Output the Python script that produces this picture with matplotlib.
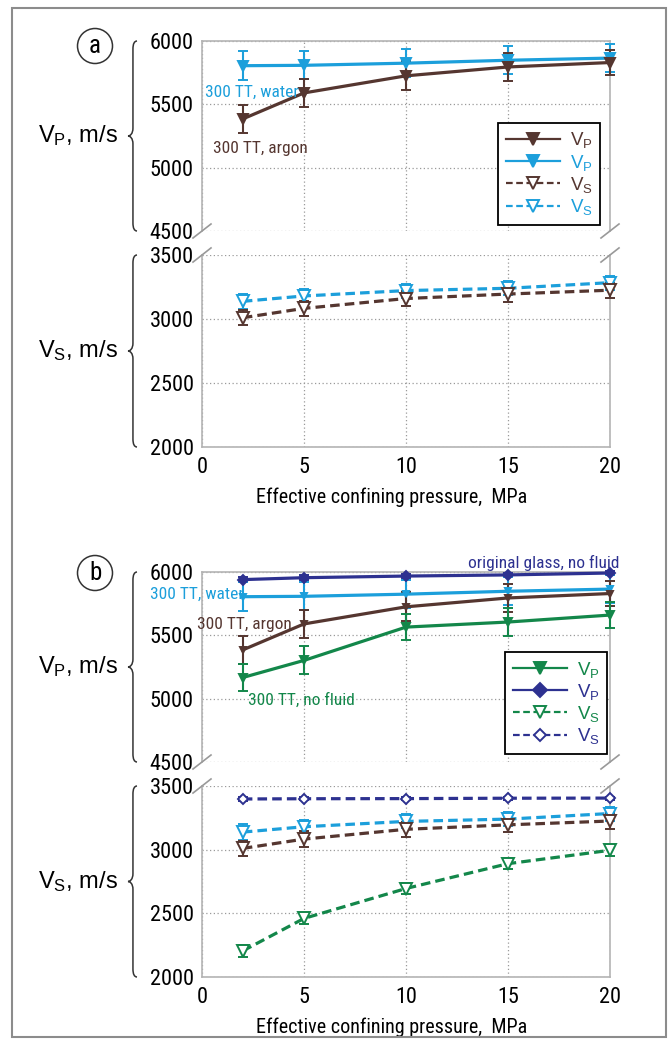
import matplotlib
matplotlib.use("Agg")
import matplotlib.pyplot as plt
from matplotlib import font_manager
from matplotlib.path import Path
from matplotlib.patches import PathPatch, Rectangle
from matplotlib.lines import Line2D
import numpy as np

# ---------------- data ----------------
pressure = [2, 5, 10, 15, 20]

vp_argon = [5385, 5590, 5725, 5795, 5830]
vp_argon_err = [110, 110, 115, 110, 100]
vp_water = [5805, 5808, 5825, 5848, 5865]
vp_water_err = [115, 110, 110, 110, 110]
vs_argon = [3010, 3083, 3160, 3195, 3225]
vs_argon_err = [60, 60, 60, 60, 60]
vs_water = [3138, 3180, 3222, 3240, 3284]
vs_water_err = [60, 55, 55, 55, 55]

vp_nofluid = [5167, 5302, 5565, 5605, 5660]
vp_nofluid_err = [110, 110, 100, 110, 100]
vp_glass = [5940, 5955, 5968, 5977, 5992]
vp_glass_err = [20, 20, 15, 15, 15]
vs_nofluid = [2205, 2460, 2695, 2890, 2995]
vs_nofluid_err = [45, 45, 45, 45, 45]
vs_glass = [3398, 3400, 3401, 3404, 3405]
vs_glass_err = [12, 12, 12, 12, 12]

xticks = [0, 5, 10, 15, 20]
vp_ticks = [4500, 5000, 5500, 6000]
vs_ticks = [2000, 2500, 3000, 3500]

# ---------------- style ----------------
names = {f.name for f in font_manager.fontManager.ttflist}
NARROW = "Liberation Sans"
for cand in ["Liberation Sans Narrow", "Nimbus Sans Narrow", "Roboto Condensed",
             "Arial Narrow", "Archivo Narrow"]:
    if cand in names:
        NARROW = cand
        break
REG = "Liberation Sans"
plt.rcParams["font.family"] = [NARROW, "DejaVu Sans"]
plt.rcParams["mathtext.fontset"] = "custom"
plt.rcParams["mathtext.rm"] = REG
plt.rcParams["mathtext.it"] = REG

BROWN = "#553630"
LBLUE = "#1c9fdb"
GREEN = "#13874a"
NAVY = "#2d3190"
SPINE = "#b4b4b4"

W, H = 668, 1039
fig = plt.figure(figsize=(W / 100, H / 100), dpi=100)


def fx(px):
    return px / W


def fy(py):
    return 1 - py / H


def make_axes(x0, x1, ytop, ybot):
    return fig.add_axes([fx(x0), fy(ybot), fx(x1) - fx(x0), (ybot - ytop) / H])


def style_axes(ax, ylim, yticks, top):
    ax.set_xlim(0, 20)
    ax.set_ylim(*ylim)
    ax.set_yticks(yticks)
    ax.set_xticks(xticks)
    ax.grid(True, linestyle=(0, (1, 2)), color="#9a9a9a", linewidth=0.9)
    ax.set_axisbelow(True)
    for s in ax.spines.values():
        s.set_color(SPINE)
        s.set_linewidth(1.2)
    ax.tick_params(axis="both", length=0, labelsize=16, pad=6, colors="black")
    if top:
        ax.spines["bottom"].set_visible(False)
        ax.tick_params(axis="x", labelbottom=False)
    else:
        ax.spines["top"].set_visible(False)
        ax.tick_params(axis="x", pad=7)
    dx, dy = 9 / 408, 7 / 190
    yb = 0 if top else 1
    for xb in (0, 1):
        ax.plot([xb - dx, xb + dx], [yb - dy, yb + dy], transform=ax.transAxes,
                color="#999999", lw=1.2, clip_on=False, zorder=5)


def brace(x, ytop, ybot, w=9, r=8):
    ym = (ytop + ybot) / 2
    xm = x + w * 0.55
    pts = [(x + w, ytop), (xm, ytop), (xm, ytop + r),
           (xm, ym - r),
           (xm, ym - 2), (x + 2, ym), (x, ym),
           (x + 2, ym), (xm, ym + 2), (xm, ym + r),
           (xm, ybot - r),
           (xm, ybot), (x + w, ybot)]
    codes = [Path.MOVETO, Path.CURVE3, Path.CURVE3,
             Path.LINETO,
             Path.CURVE4, Path.CURVE4, Path.CURVE4,
             Path.CURVE4, Path.CURVE4, Path.CURVE4,
             Path.LINETO,
             Path.CURVE3, Path.CURVE3]
    verts = [(fx(a), fy(b)) for a, b in pts]
    fig.add_artist(PathPatch(Path(verts, codes), transform=fig.transFigure,
                             fill=False, lw=1.1, edgecolor="#333333"))


def series(ax, y, err, color, marker, dashed, filled, ms=7):
    cont = ax.errorbar(pressure, y, yerr=err, color=color, ecolor=color,
                       linestyle=(0, (3, 1.6)) if dashed else "-", linewidth=2.3,
                       marker=marker, markersize=ms,
                       markerfacecolor=color if filled else "white",
                       markeredgecolor=color, markeredgewidth=1.4,
                       capsize=3.5, elinewidth=1.5, capthick=1.5, zorder=3)
    for art in cont.get_children():
        art.set_clip_on(False)


def legend(ax, entries, x0, ytop):
    handles, labels, colors = [], [], []
    for color, marker, dashed, filled, lab, ms in entries:
        handles.append(Line2D([], [], color=color, lw=1.6,
                              linestyle=(0, (3, 1.6)) if dashed else "-",
                              marker=marker, markersize=ms,
                              markerfacecolor=color if filled else "white",
                              markeredgecolor=color, markeredgewidth=1.4))
        labels.append(lab)
        colors.append(color)
    leg = ax.legend(handles, labels, loc="upper left",
                    bbox_to_anchor=(fx(x0), fy(ytop)),
                    bbox_transform=fig.transFigure, borderaxespad=0,
                    prop={"family": REG, "size": 13.5}, labelcolor=colors,
                    fancybox=False, edgecolor="black", framealpha=1,
                    handlelength=2.9, handletextpad=0.55, labelspacing=0.12,
                    borderpad=0.4)
    leg.get_frame().set_linewidth(1.3)
    leg.set_zorder(10)


VP = "V$_\\mathrm{P}$"
VS = "V$_\\mathrm{S}$"
XLAB = "Effective confining pressure,  MPa"

# ---------------- panel a ----------------
axa1 = make_axes(202, 610, 41, 231)
axa2 = make_axes(202, 610, 255, 447)
style_axes(axa1, (4500, 6000), vp_ticks, True)
style_axes(axa2, (2000, 3500), vs_ticks, False)

series(axa1, vp_water, vp_water_err, LBLUE, "v", False, True)
series(axa1, vp_argon, vp_argon_err, BROWN, "v", False, True)
series(axa2, vs_water, vs_water_err, LBLUE, "v", True, False, ms=8)
series(axa2, vs_argon, vs_argon_err, BROWN, "v", True, False, ms=8)
axa2.set_xlabel(XLAB, fontsize=14.5, labelpad=7)
axa2.xaxis.label.set_x(0.465)

legend(axa1, [(BROWN, "v", False, True, VP, 9), (LBLUE, "v", False, True, VP, 9),
              (BROWN, "v", True, False, VS, 8), (LBLUE, "v", True, False, VS, 8)],
       498, 123)

fig.text(fx(205), fy(92), "300 TT, water", color=LBLUE, fontsize=12.5, va="center")
fig.text(fx(213), fy(149), "300 TT, argon", color=BROWN, fontsize=12.5, va="center")

# ---------------- panel b ----------------
axb1 = make_axes(202, 610, 572, 762)
axb2 = make_axes(202, 610, 786, 977)
style_axes(axb1, (4500, 6000), vp_ticks, True)
style_axes(axb2, (2000, 3500), vs_ticks, False)

series(axb1, vp_glass, vp_glass_err, NAVY, "D", False, True, ms=5)
series(axb1, vp_water, vp_water_err, LBLUE, "v", False, True, ms=5)
series(axb1, vp_argon, vp_argon_err, BROWN, "v", False, True, ms=5)
series(axb1, vp_nofluid, vp_nofluid_err, GREEN, "v", False, True, ms=6)
series(axb2, vs_glass, vs_glass_err, NAVY, "D", True, False, ms=5)
series(axb2, vs_water, vs_water_err, LBLUE, "v", True, False, ms=8)
series(axb2, vs_argon, vs_argon_err, BROWN, "v", True, False, ms=8)
series(axb2, vs_nofluid, vs_nofluid_err, GREEN, "v", True, False, ms=8)
axb2.set_xlabel(XLAB, fontsize=14.5, labelpad=7)
axb2.xaxis.label.set_x(0.465)

legend(axb1, [(GREEN, "v", False, True, VP, 9), (NAVY, "D", False, True, VP, 7),
              (GREEN, "v", True, False, VS, 8), (NAVY, "D", True, False, VS, 6)],
       505, 652)

fig.text(fx(150), fy(594), "300 TT, water", color=LBLUE, fontsize=12.5, va="center")
fig.text(fx(197), fy(625), "300 TT, argon", color=BROWN, fontsize=12.5, va="center")
fig.text(fx(248), fy(700), "300 TT, no fluid", color=GREEN, fontsize=12.5, va="center")
fig.text(fx(619), fy(563), "original glass, no fluid", color=NAVY, fontsize=12.5,
         va="center", ha="right")

# ---------------- y labels with braces ----------------
for (yt, yb, lab) in [(41, 231, VP + ", m/s"), (255, 447, VS + ", m/s"),
                      (572, 762, VP + ", m/s"), (786, 977, VS + ", m/s")]:
    brace(128, yt, yb)
    fig.text(fx(118), fy((yt + yb) / 2), lab, fontsize=17, ha="right",
             va="center", family=REG)

for (px, py, let) in [(95, 46, "a"), (95, 573, "b")]:
    fig.text(fx(px), fy(py), let, fontsize=18, ha="center", va="center",
             bbox=dict(boxstyle="circle,pad=0.22", fc="white", ec="#333333", lw=1.1))

fig.add_artist(Rectangle((fx(12), fy(1037)), fx(666) - fx(12), fy(8) - fy(1037),
                         transform=fig.transFigure, fill=False,
                         edgecolor="#8c8c8c", lw=1.5))

fig.savefig("out.png", dpi=100)
